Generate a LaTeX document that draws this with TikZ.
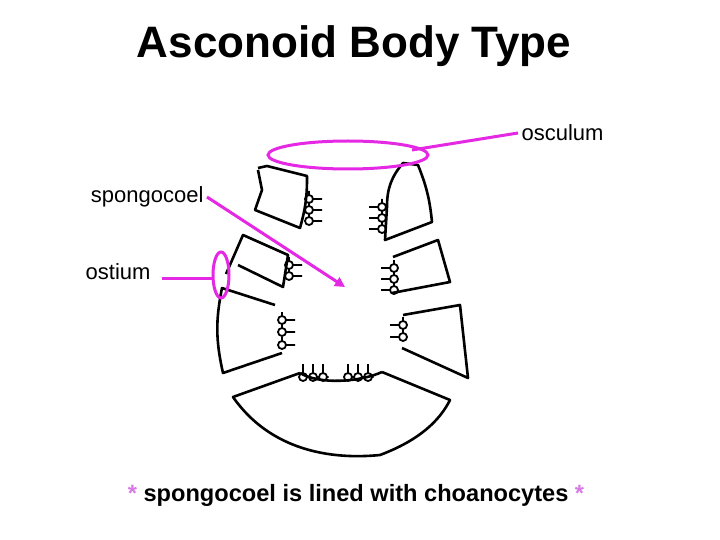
\documentclass[tikz,border=0pt]{standalone}
\usepackage{fontspec}
\setmainfont{Liberation Sans}
\usetikzlibrary{arrows.meta}
\definecolor{mg}{RGB}{228,40,228}
\definecolor{starc}{RGB}{215,120,230}
\begin{document}
\begin{tikzpicture}[x=1pt,y=-1pt,
  wall/.style={draw=black,line width=2.6pt,line join=round},
  mag/.style={draw=mg,line width=3pt},
  lbl/.style={font=\fontsize{22}{26}\selectfont},
  cellR/.pic={\draw[line width=1.8pt] (0,0) circle (4) (4,0) -- (13,0) (0,-4) -- (0,-8);},
  cellL/.pic={\draw[line width=1.8pt] (0,0) circle (4) (-4,0) -- (-13,0) (0,-4) -- (0,-8);},
  cellU/.pic={\draw[line width=1.8pt] (0,0) circle (4) (0,-4) -- (0,-13) (4,0) -- (5.5,0);}]
\useasboundingbox (0,0) rectangle (720,540);
\node[font=\bfseries\fontsize{44}{50}\selectfont] (title) at (354,46) {Asconoid Body Type};
% body walls
\draw[wall] (258,168) -- (267,166) -- (307,176) to[bend left=8] (300,228) -- (255,210) -- (262,190) -- (258,170);
\draw[wall] (387,207) to[bend left=20] (403,163) -- (418,165) to[bend left=8] (432,222) -- (385,240) -- cycle;
\draw[wall] (226,274) -- (243,235) -- (288,255) -- (283,287) -- (238,265);
\draw[wall] (275,305) -- (222,288) to[bend right=12] (223,373) -- (282,353);
\draw[wall] (393,257) -- (438,240) -- (450,282) -- (392,293);
\draw[wall] (403,315) -- (460,305) -- (468,378) -- (402,348);
\draw[wall] (300,373) -- (233,397) .. controls (270,450) and (330,460) .. (380,455) .. controls (420,440) and (440,420) .. (450,400) -- (382,372);
\draw[wall] (300,373) .. controls (320,385) and (360,382) .. (382,372);
% choanocytes
\foreach \y in {199,210,221} \pic at (309,\y) {cellR};
\foreach \y in {207,218,229} \pic at (382,\y) {cellL};
\foreach \y in {265,276} \pic at (289,\y) {cellR};
\foreach \y in {268,279,290} \pic at (394,\y) {cellL};
\foreach \y in {320,332,345} \pic at (282,\y) {cellR};
\foreach \y in {325,337} \pic at (403,\y) {cellL};
\foreach \x in {303,313,323,348,358,368} \pic at (\x,377) {cellU};
% labels
\node[lbl,anchor=west] (osc) at (518,133) {osculum};
\node[lbl,anchor=east] (spc) at (207,197) {spongocoel};
\node[lbl,anchor=east] (ost) at (154,272) {ostium};
\node[font=\bfseries\fontsize{23.6}{28}\selectfont] (note) at (356,495) {\textcolor{starc}{*} spongocoel is lined with choanocytes \textcolor{starc}{*}};
% magenta markers
\draw[mag] (348,155) ellipse (80 and 14);
\coordinate (oscE) at (412,150);
\draw[mag] (oscE) -- (osc.west);
\coordinate (spcT) at (345,287);
\draw[mag,-{Triangle[length=10pt,width=10pt]}] (spc.east) -- (spcT);
\draw[mag] (221,275) ellipse (8 and 23);
\coordinate (ostE) at (212,278);
\draw[mag] (ost.east)++(8,6) -- (ostE);
\end{tikzpicture}
\end{document}
